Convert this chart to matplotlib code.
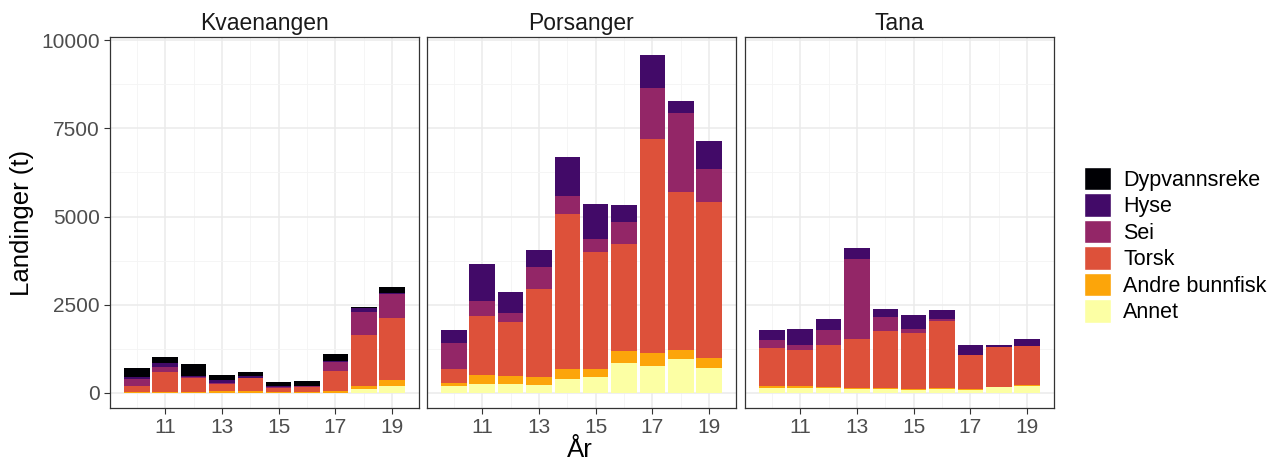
import numpy as np
import matplotlib
matplotlib.use("Agg")
import matplotlib.pyplot as plt
from matplotlib.patches import Patch

plt.rcParams["font.family"] = ["Liberation Sans", "DejaVu Sans"]

years = [10, 11, 12, 13, 14, 15, 16, 17, 18, 19]
species = ["Annet", "Andre bunnfisk", "Torsk", "Sei", "Hyse", "Dypvannsreke"]
colors = ["#FCFFA4", "#FCA50A", "#DD513A", "#932667", "#420A68", "#000004"]

# values per species (t), stacked bottom to top
kvaenangen = {
    "Annet":          [5, 5, 5, 5, 5, 5, 5, 5, 104, 180],
    "Andre bunnfisk": [23, 23, 14, 33, 42, 23, 23, 33, 104, 179],
    "Torsk":          [152, 576, 415, 226, 368, 104, 132, 594, 1435, 1774],
    "Sei":            [207, 123, 28, 29, 19, 28, 38, 255, 660, 667],
    "Hyse":           [75, 113, 20, 57, 47, 20, 10, 29, 97, 30],
    "Dypvannsreke":   [238, 180, 330, 150, 123, 131, 132, 188, 45, 180],
}
porsanger = {
    "Annet":          [180, 255, 255, 227, 396, 453, 850, 765, 972, 708],
    "Andre bunnfisk": [113, 245, 217, 217, 294, 227, 340, 368, 236, 283],
    "Torsk":          [387, 1680, 1528, 2511, 4370, 3320, 3030, 6060, 4475, 4428],
    "Sei":            [745, 435, 265, 605, 530, 370, 623, 1445, 2256, 925],
    "Hyse":           [359, 1038, 595, 490, 1093, 980, 472, 944, 331, 793],
    "Dypvannsreke":   [0, 0, 0, 0, 0, 0, 0, 0, 0, 0],
}
tana = {
    "Annet":          [151, 151, 142, 104, 113, 85, 113, 85, 160, 189],
    "Andre bunnfisk": [57, 29, 28, 19, 19, 19, 29, 19, 10, 28],
    "Torsk":          [1057, 1038, 1190, 1416, 1633, 1605, 1906, 972, 1123, 1114],
    "Sei":            [235, 142, 424, 2246, 387, 103, 57, 0, 0, 0],
    "Hyse":           [284, 443, 312, 312, 218, 388, 236, 284, 67, 198],
    "Dypvannsreke":   [0, 0, 0, 0, 0, 0, 0, 0, 0, 0],
}
panels = [("Kvaenangen", kvaenangen), ("Porsanger", porsanger), ("Tana", tana)]

fig = plt.figure(figsize=(12.81, 4.65), dpi=100)
W, H = 1281, 465
lefts = [110, 427, 745]
pw, top, bot = 309, 37, 408

for i, (name, data) in enumerate(panels):
    ax = fig.add_axes([lefts[i] / W, (H - bot) / H, pw / W, (bot - top) / H])
    bottom = np.zeros(len(years))
    for sp, c in zip(species, colors):
        vals = np.array(data[sp], dtype=float)
        ax.bar(years, vals, width=0.9, bottom=bottom, color=c, linewidth=0, zorder=3)
        bottom += vals
    ax.set_xlim(9.055, 19.945)
    ax.set_ylim(-430, 10090)
    ax.set_xticks([11, 13, 15, 17, 19])
    ax.set_xticks([10, 12, 14, 16, 18], minor=True)
    ax.set_yticks([0, 2500, 5000, 7500, 10000])
    ax.set_yticks([1250, 3750, 6250, 8750], minor=True)
    ax.grid(True, which="major", color="#EBEBEB", linewidth=1.1, zorder=0)
    ax.grid(True, which="minor", color="#F4F4F4", linewidth=0.6, zorder=0)
    ax.tick_params(which="minor", length=0)
    ax.tick_params(which="major", length=4, color="#333333", width=0.8,
                   labelsize=15, labelcolor="#4D4D4D")
    for s in ax.spines.values():
        s.set_color("#333333")
        s.set_linewidth(0.9)
    if i > 0:
        ax.tick_params(axis="y", left=False, labelleft=False)
    else:
        ax.set_ylabel("Landinger (t)", fontsize=18.5, labelpad=5)
    ax.set_title(name, fontsize=16.5, pad=5, color="#1A1A1A")

fig.text(580 / W, 1 - 450 / H, "År", fontsize=18.5, ha="center", va="center")

handles = [Patch(facecolor=c, edgecolor="white", linewidth=1) for c in colors[::-1]]
fig.legend(handles, species[::-1], loc="center left", bbox_to_anchor=(1075 / W, 1 - 245 / H),
           frameon=False, fontsize=15.5, handlelength=1.25, handleheight=1.3,
           handletextpad=0.6, labelspacing=0.12, borderaxespad=0)

fig.savefig("out.png", dpi=100)
